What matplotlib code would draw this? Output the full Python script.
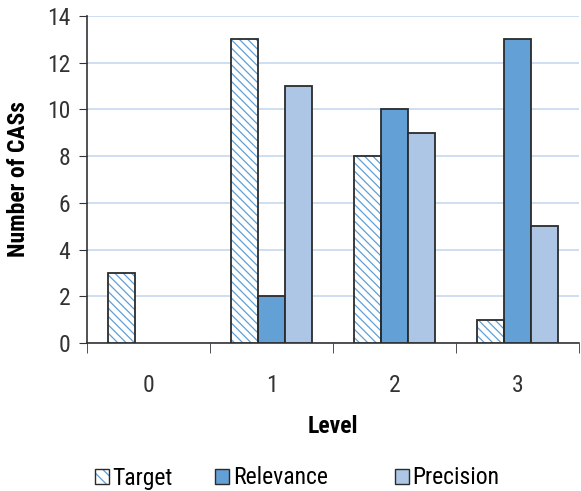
import numpy as np
import matplotlib
matplotlib.use("Agg")
import matplotlib.pyplot as plt
from matplotlib.patches import Patch
from matplotlib import font_manager

names = {f.name for f in font_manager.fontManager.ttflist}
fams = [n for n in ['Liberation Sans Narrow', 'Roboto Condensed', 'Roboto'] if n in names]
plt.rcParams['font.family'] = fams + ['DejaVu Sans']
plt.rcParams['hatch.linewidth'] = 0.9

levels = ['0', '1', '2', '3']
target = [3, 13, 8, 1]
relevance = [0, 2, 10, 13]
precision = [0, 11, 9, 5]

blue_hatch = '#5f9fd8'
rel_color = '#62a0d6'
prec_color = '#adc6e6'
edge = '#2b2b2b'

fig = plt.figure(figsize=(5.81, 4.91), dpi=100)
ax = fig.add_axes([87 / 581, 1 - 343 / 491, (579 - 87) / 581, (343 - 16) / 491])

x = np.arange(len(levels))
w = 0.22


def lw(vals):
    return [0 if v == 0 else 1.3 for v in vals]


ax.bar(x - w, target, w, color='white', hatch='\\\\\\\\', edgecolor=blue_hatch, linewidth=0, zorder=3)
ax.bar(x - w, target, w, fill=False, edgecolor=edge, linewidth=lw(target), zorder=4)
ax.bar(x, relevance, w, color=rel_color, edgecolor=edge, linewidth=lw(relevance), zorder=3)
ax.bar(x + w, precision, w, color=prec_color, edgecolor=edge, linewidth=lw(precision), zorder=3)

ax.set_xlim(-0.5, 3.5)
ax.set_ylim(0, 14)
ax.set_yticks(range(0, 15, 2))
ax.yaxis.grid(True, color='#c6d9ef', linewidth=1.2, zorder=0)
ax.set_axisbelow(True)
ax.set_xticks(x)
ax.set_xticklabels(levels)
ax.set_xticks(np.arange(-0.5, 4, 1), minor=True)
ax.tick_params(axis='x', which='major', length=0, pad=22, labelsize=17, colors='#333333')
ax.tick_params(axis='x', which='minor', length=7, direction='out', color='#333333')
ax.tick_params(axis='y', length=6, direction='out', labelsize=17, colors='#333333', pad=6)
for s in ['top', 'right']:
    ax.spines[s].set_visible(False)
for s in ['left', 'bottom']:
    ax.spines[s].set_color('#333333')
    ax.spines[s].set_linewidth(1.2)

ax.set_ylabel('Number of CASs', fontsize=17, fontweight='bold', labelpad=12)
ax.set_xlabel('Level', fontsize=17, fontweight='bold', labelpad=13)

h_target = (Patch(facecolor='white', hatch='\\\\\\', edgecolor=blue_hatch, linewidth=0),
            Patch(fill=False, edgecolor=edge, linewidth=1))
h_rel = Patch(facecolor=rel_color, edgecolor=edge, linewidth=1)
h_prec = Patch(facecolor=prec_color, edgecolor=edge, linewidth=1)
legend_items = [(h_target, 'Target', 95), (h_rel, 'Relevance', 215), (h_prec, 'Precision', 395)]
for h, lab, px in legend_items:
    fig.legend(handles=[h], labels=[lab], loc='center left',
               bbox_to_anchor=(px / 581, 1 - 478 / 491), borderpad=0, borderaxespad=0,
               frameon=False, fontsize=17, handlelength=0.6, handleheight=0.6,
               handletextpad=0.15)

fig.savefig('out.png', dpi=100)
